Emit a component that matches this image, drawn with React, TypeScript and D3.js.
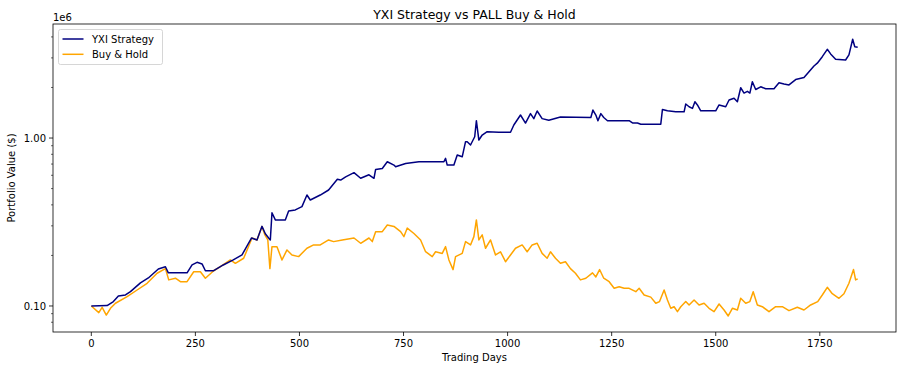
import * as d3 from "d3";
import { useEffect, useRef } from "react";

// trading day index + portfolio value ($)
const stratDays = [0, 38, 53, 65, 82, 94, 118, 137, 161, 178, 185, 230, 242, 254, 266, 274, 293, 317, 341, 362, 385, 398, 410, 418, 426, 430, 434, 442, 466, 474, 490, 506, 518, 526, 550, 570, 591, 599, 611, 631, 647, 667, 679, 683, 699, 711, 727, 731, 755, 787, 847, 851, 855, 871, 879, 891, 899, 903, 911, 921, 925, 931, 939, 951, 979, 1007, 1015, 1031, 1043, 1055, 1063, 1071, 1083, 1099, 1127, 1200, 1205, 1212, 1217, 1224, 1231, 1240, 1292, 1300, 1312, 1320, 1368, 1372, 1384, 1404, 1424, 1428, 1436, 1444, 1450, 1456, 1464, 1500, 1508, 1524, 1532, 1544, 1552, 1560, 1568, 1576, 1582, 1588, 1596, 1608, 1620, 1640, 1652, 1664, 1676, 1692, 1712, 1724, 1736, 1744, 1756, 1768, 1776, 1788, 1812, 1820, 1829, 1834, 1841];
const stratValues = [100000, 100600, 106200, 114700, 116300, 121700, 137300, 146800, 166100, 171300, 157500, 157500, 175500, 182000, 178000, 162000, 162000, 175500, 188000, 201300, 254000, 247300, 298000, 269000, 254000, 247300, 359000, 325400, 325400, 368100, 373300, 390500, 457800, 427500, 457800, 490400, 568000, 562000, 587000, 622000, 576000, 604000, 576000, 650000, 659000, 722000, 690000, 674000, 706000, 722000, 722000, 757000, 690000, 690000, 793000, 773000, 951000, 951000, 909000, 1018000, 1268000, 973000, 1042000, 1091000, 1083000, 1083000, 1195000, 1371000, 1228000, 1397000, 1305000, 1448000, 1305000, 1275000, 1335000, 1325000, 1468000, 1371000, 1268000, 1397000, 1325000, 1268000, 1268000, 1230000, 1230000, 1209000, 1209000, 1480000, 1452000, 1433000, 1433000, 1594000, 1536000, 1501000, 1645000, 1573000, 1452000, 1452000, 1573000, 1536000, 1684000, 1727000, 1645000, 1992000, 1853000, 1897000, 1853000, 2164000, 1946000, 2019000, 1965000, 1965000, 2135000, 2100000, 2072000, 2228000, 2290000, 2484000, 2685000, 2790000, 3050000, 3375000, 3168000, 2943000, 2915000, 3125000, 3872000, 3497000, 3468000];

const holdDays = [0, 18, 26, 36, 46, 58, 86, 110, 134, 158, 178, 186, 202, 214, 230, 246, 262, 274, 294, 310, 334, 346, 366, 386, 398, 410, 417, 424, 429, 434, 446, 458, 470, 482, 498, 518, 534, 550, 570, 582, 603, 631, 647, 667, 675, 683, 699, 711, 727, 743, 751, 759, 775, 791, 803, 819, 827, 843, 851, 859, 869, 875, 891, 899, 911, 919, 925, 931, 939, 947, 959, 971, 983, 995, 1007, 1019, 1035, 1047, 1059, 1071, 1083, 1095, 1103, 1115, 1127, 1139, 1151, 1163, 1175, 1188, 1204, 1212, 1221, 1231, 1244, 1256, 1268, 1280, 1292, 1308, 1316, 1328, 1344, 1356, 1365, 1376, 1384, 1392, 1400, 1408, 1416, 1428, 1436, 1448, 1460, 1472, 1484, 1496, 1508, 1520, 1530, 1540, 1552, 1560, 1572, 1582, 1590, 1600, 1612, 1628, 1644, 1660, 1676, 1696, 1712, 1728, 1745, 1756, 1768, 1780, 1796, 1808, 1820, 1831, 1836, 1841];
const holdValues = [100000, 91300, 98200, 88300, 96900, 103800, 113600, 124500, 136500, 156600, 166900, 143000, 146300, 139500, 139500, 159900, 159900, 146300, 162100, 171300, 188000, 179500, 192400, 254000, 247300, 297500, 265000, 247300, 166900, 225600, 225600, 188000, 215600, 201300, 196800, 220700, 231000, 231000, 247300, 241700, 247300, 254000, 236300, 254000, 241700, 277000, 277000, 303800, 297500, 277000, 258900, 290900, 270200, 247300, 210400, 196800, 210200, 205600, 225600, 188000, 164600, 196800, 205600, 241700, 231000, 258900, 325400, 247300, 265000, 220700, 247300, 201300, 210200, 183500, 201300, 220700, 231000, 210200, 231000, 236300, 205600, 192400, 210200, 192400, 179500, 183500, 166900, 156600, 143000, 146300, 157500, 148900, 164800, 146300, 139500, 127400, 130300, 127400, 127400, 121700, 127400, 116300, 112900, 103800, 106200, 124500, 108600, 96900, 99000, 92500, 99000, 106200, 101400, 108600, 101400, 103800, 96900, 92500, 102800, 94650, 87200, 96900, 94650, 111100, 103800, 106200, 121700, 101400, 99000, 92500, 99000, 99000, 93800, 98200, 94650, 101400, 106200, 116300, 129200, 118300, 111100, 118300, 136500, 164800, 143000, 145000];

const xTicks = [0, 250, 500, 750, 1000, 1250, 1500, 1750];
const yMajor = [1e5, 1e6];
const yMajorLabels = ["0.10", "1.00"];
const seriesNames = ["YXI Strategy", "Buy & Hold"];
const seriesColors = ["#000080", "#ffa500"];

export default function App() {
    const ref = useRef<SVGSVGElement>(null);

    useEffect(() => {
        const svg = d3.select(ref.current);
        svg.selectAll("*").remove();

        const left = 53, right = 896, top = 24, bottom = 332;
        const font = "DejaVu Sans, sans-serif";

        // x with matplotlib's 5% margins
        const lastDay = d3.max(stratDays) as number;
        const pad = lastDay * 0.05;
        const x = d3.scaleLinear().domain([-pad, lastDay + pad]).range([left, right]);
        const y = d3.scaleLog().domain([70000, 4.775e6]).range([bottom, top]);

        const g = svg.append("g");

        // minor log ticks
        const minor: number[] = [];
        for (const base of [1e4, 1e5, 1e6]) {
            for (let k = 2; k <= 9; k++) {
                const v = base * k;
                if (v > y.domain()[0] && v < y.domain()[1]) minor.push(v);
            }
        }
        g.selectAll(".minor").data(minor).enter().append("line")
            .attr("x1", left - 2).attr("x2", left)
            .attr("y1", d => y(d)).attr("y2", d => y(d))
            .attr("stroke", "#000").attr("stroke-width", 0.6);

        // major y ticks
        g.selectAll(".ymaj").data(yMajor).enter().append("line")
            .attr("x1", left - 4).attr("x2", left)
            .attr("y1", d => y(d)).attr("y2", d => y(d))
            .attr("stroke", "#000").attr("stroke-width", 0.8);
        g.selectAll(".ylab").data(yMajor).enter().append("text")
            .attr("x", left - 7).attr("y", d => y(d) + 3.6)
            .attr("text-anchor", "end")
            .attr("font-family", font).attr("font-size", 10)
            .text((d, i) => yMajorLabels[i]);
        g.append("text").attr("x", left).attr("y", 20.5)
            .attr("font-family", font).attr("font-size", 10).text("1e6");

        // x ticks
        g.selectAll(".xt").data(xTicks).enter().append("line")
            .attr("x1", d => x(d)).attr("x2", d => x(d))
            .attr("y1", bottom).attr("y2", bottom + 4)
            .attr("stroke", "#000").attr("stroke-width", 0.8);
        g.selectAll(".xl").data(xTicks).enter().append("text")
            .attr("x", d => x(d)).attr("y", bottom + 14.5)
            .attr("text-anchor", "middle")
            .attr("font-family", font).attr("font-size", 10)
            .text(d => String(d));

        // lines
        const line = d3.line<[number, number]>()
            .x(d => x(d[0]))
            .y(d => y(d[1]));
        const series: [number, number][][] = [
            stratDays.map((d, i) => [d, stratValues[i]]),
            holdDays.map((d, i) => [d, holdValues[i]]),
        ];
        // draw buy & hold first, strategy on top
        [1, 0].forEach(i => {
            g.append("path").datum(series[i])
                .attr("fill", "none")
                .attr("stroke", seriesColors[i])
                .attr("stroke-width", 1.5)
                .attr("stroke-linejoin", "round")
                .attr("d", line);
        });

        // frame
        g.append("rect")
            .attr("x", left).attr("y", top)
            .attr("width", right - left).attr("height", bottom - top)
            .attr("fill", "none").attr("stroke", "#000").attr("stroke-width", 0.8);

        // titles
        g.append("text").attr("x", (left + right) / 2).attr("y", 18.5)
            .attr("text-anchor", "middle")
            .attr("font-family", font).attr("font-size", 12.5)
            .text("YXI Strategy vs PALL Buy & Hold");
        g.append("text").attr("x", (left + right) / 2).attr("y", 361)
            .attr("text-anchor", "middle")
            .attr("font-family", font).attr("font-size", 10)
            .text("Trading Days");
        g.append("text")
            .attr("transform", `translate(15, ${(top + bottom) / 2}) rotate(-90)`)
            .attr("text-anchor", "middle")
            .attr("font-family", font).attr("font-size", 10)
            .text("Portfolio Value ($)");

        // legend
        const lg = g.append("g").attr("transform", "translate(58.5, 29.5)");
        lg.append("rect").attr("width", 104).attr("height", 35).attr("rx", 2)
            .attr("fill", "#fff").attr("fill-opacity", 0.8)
            .attr("stroke", "#cccccc").attr("stroke-width", 0.8);
        seriesNames.forEach((name, i) => {
            const ly = 9.5 + i * 15.3;
            lg.append("line").attr("x1", 4).attr("x2", 25)
                .attr("y1", ly).attr("y2", ly)
                .attr("stroke", seriesColors[i]).attr("stroke-width", 1.5);
            lg.append("text").attr("x", 33.5).attr("y", ly + 3.6)
                .attr("font-family", font).attr("font-size", 10)
                .text(name);
        });
    }, []);

    return (
        <div style={{ position: "absolute", left: 0, top: 0 }}>
            <svg ref={ref} width={904} height={372} style={{ display: "block", background: "#fff" }}></svg>
        </div>
    );
}
